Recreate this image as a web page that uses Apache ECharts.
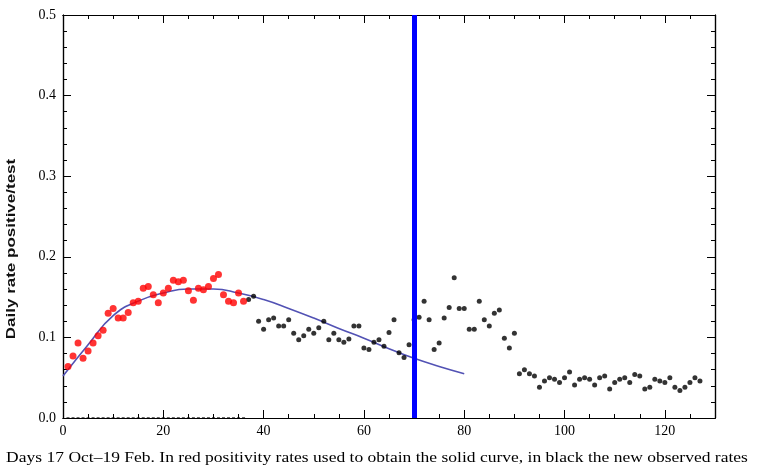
<!DOCTYPE html>
<html>
<head>
<meta charset="utf-8">
<script src="https://cdn.jsdelivr.net/npm/echarts@6/dist/echarts.min.js"></script>
<style>
  html, body { margin: 0; padding: 0; background: #fff; }
  #chart { width: 761px; height: 471px; }
</style>
</head>
<body>
<div id="chart"></div>
<script>
// red points: positivity rates used for the fit (days 1..36)
const redStart = 1
const redValues = [0.064, 0.077, 0.093, 0.074, 0.083, 0.093, 0.102, 0.109, 0.130, 0.136,
  0.124, 0.124, 0.131, 0.143, 0.145, 0.161, 0.163, 0.153, 0.143, 0.155,
  0.161, 0.171, 0.169, 0.171, 0.158, 0.146, 0.161, 0.159, 0.163, 0.173,
  0.178, 0.153, 0.145, 0.143, 0.155, 0.145]

// black points: new observed rates (days 37..127)
const blackStart = 37
const blackValues = [0.147, 0.151, 0.120, 0.110, 0.122, 0.124, 0.114, 0.114, 0.122, 0.105,
  0.097, 0.102, 0.110, 0.105, 0.112, 0.120, 0.097, 0.105, 0.097, 0.094,
  0.098, 0.114, 0.114, 0.087, 0.085, 0.094, 0.097, 0.089, 0.106, 0.122,
  0.081, 0.075, 0.091, 0.122, 0.125, 0.145, 0.122, 0.085, 0.093, 0.124,
  0.137, 0.174, 0.136, 0.136, 0.110, 0.110, 0.145, 0.122, 0.114, 0.130,
  0.134, 0.099, 0.087, 0.105, 0.055, 0.060, 0.055, 0.052, 0.038, 0.046,
  0.050, 0.048, 0.044, 0.050, 0.057, 0.041, 0.048, 0.050, 0.048, 0.041,
  0.050, 0.052, 0.036, 0.044, 0.048, 0.050, 0.044, 0.054, 0.052, 0.036,
  0.038, 0.048, 0.046, 0.044, 0.050, 0.038, 0.034, 0.038, 0.044, 0.050,
  0.046]

// black zeros along the axis (days 1..36)
const zeroStart = 1
const zeroValues = new Array(36).fill(0)

// fitted solid curve, read every 5 days
const fitDays = [0, 5, 10, 15, 20, 25, 30, 35, 40, 45, 50, 55, 60, 65, 70, 75, 80]
const fitValues = [0.052, 0.091, 0.127, 0.145, 0.155, 0.160, 0.160, 0.155, 0.147,
  0.136, 0.124, 0.111, 0.099, 0.086, 0.074, 0.064, 0.055]

const cutDay = 70

const yLabel = 'Daily rate positive/test'
const caption = 'Days 17 Oct\u201319 Feb. In red positivity rates used to obtain the solid curve, in black the new observed rates'

const toPairs = (start, vals) => vals.map((v, i) => [start + i, v])
const font = 'Liberation Serif'
const axisColor = '#000'

function frameAxis(pos, interval, len, opts) {
  return Object.assign({
    type: 'value',
    position: pos,
    interval: interval,
    axisLine: { show: true, onZero: false, lineStyle: { color: axisColor, width: 1.2 } },
    axisTick: { show: true, inside: true, length: len, lineStyle: { color: axisColor, width: 1 } },
    axisLabel: { show: false },
    splitLine: { show: false }
  }, opts)
}

const xRange = { min: 0, max: 130 }
const yRange = { min: 0, max: 0.5 }

const chart = echarts.init(document.getElementById('chart'))
chart.setOption({
  animation: false,
  backgroundColor: '#fff',
  grid: { left: 63, right: 46, top: 15, bottom: 53 },
  xAxis: [
    frameAxis('bottom', 5, 4, Object.assign({
      axisLabel: {
        show: true, margin: 6, color: '#000', fontFamily: font, fontSize: 14,
        formatter: v => (v % 20 === 0 ? String(v) : '')
      }
    }, xRange)),
    frameAxis('bottom', 20, 8, xRange),
    frameAxis('top', 5, 4, xRange),
    frameAxis('top', 20, 8, xRange)
  ],
  yAxis: [
    frameAxis('left', 0.02, 4, Object.assign({
      axisLabel: {
        show: true, margin: 7, color: '#000', fontFamily: font, fontSize: 14,
        formatter: v => (Math.abs(v * 10 - Math.round(v * 10)) < 1e-6 ? v.toFixed(1) : '')
      }
    }, yRange)),
    frameAxis('left', 0.1, 8, yRange),
    frameAxis('right', 0.02, 4, yRange),
    frameAxis('right', 0.1, 8, yRange)
  ],
  graphic: [
    {
      type: 'text', x: 12, y: 249, rotation: Math.PI / 2, scaleX: 1.36,
      style: { text: yLabel, fontFamily: 'Liberation Sans', fontWeight: 'bold', fontSize: 12.5, fill: '#111', align: 'center', verticalAlign: 'middle' }
    },
    {
      type: 'text', x: 377, y: 458, scaleX: 1.13,
      style: { text: caption, fontFamily: font, fontSize: 15.5, fill: '#000', align: 'center', verticalAlign: 'middle' }
    }
  ],
  series: [
    {
      name: 'cut',
      type: 'line',
      data: [],
      markLine: {
        silent: true,
        symbol: 'none',
        label: { show: false },
        lineStyle: { color: '#0000ff', width: 5, type: 'solid' },
        data: [{ xAxis: cutDay }]
      }
    },
    {
      name: 'fit',
      type: 'line',
      data: fitDays.map((d, i) => [d, fitValues[i]]),
      smooth: true,
      showSymbol: false,
      lineStyle: { color: '#5252b4', width: 1.6 },
      z: 3
    },
    {
      name: 'zeros',
      type: 'scatter',
      data: toPairs(zeroStart, zeroValues),
      symbol: 'rect',
      symbolSize: [3, 1.5],
      itemStyle: { color: '#000' },
      z: 4
    },
    {
      name: 'observed',
      type: 'scatter',
      data: toPairs(blackStart, blackValues),
      symbolSize: 5,
      itemStyle: { color: '#000' },
      z: 4
    },
    {
      name: 'used',
      type: 'scatter',
      data: toPairs(redStart, redValues),
      symbolSize: 7,
      itemStyle: { color: '#ff0000' },
      z: 5
    }
  ]
})
</script>
</body>
</html>
